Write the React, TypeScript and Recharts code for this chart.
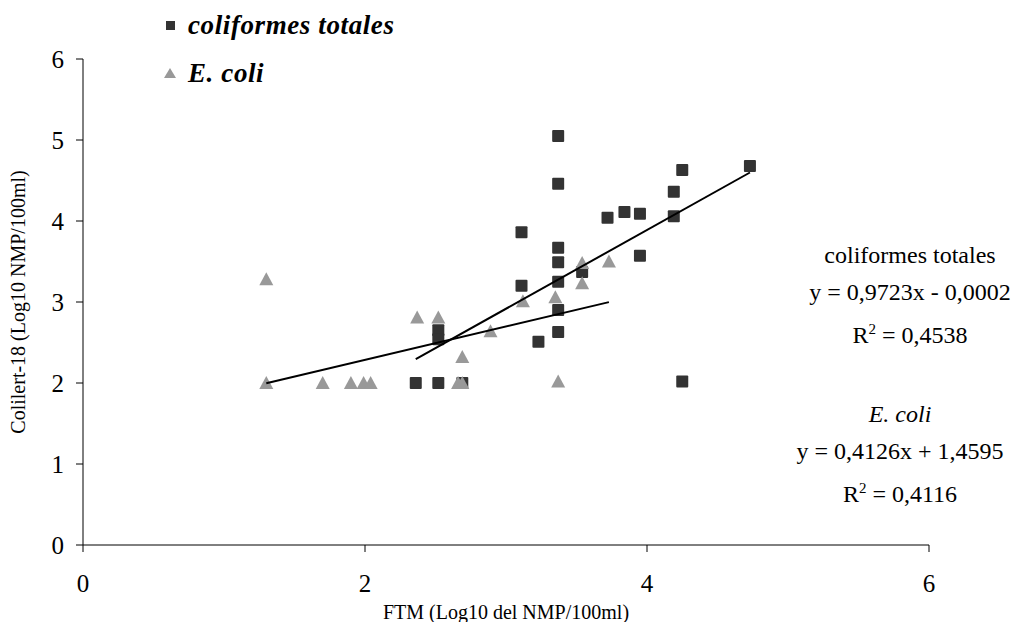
import React from 'react';
import { ScatterChart, Scatter, XAxis, YAxis, Legend, Label } from 'recharts';

// Coliformes totales: FTM (x) vs Colilert-18 (y), log10 NMP/100ml
const coliX = [2.36, 2.52, 2.69, 2.52, 2.52, 3.23, 3.37, 3.37, 3.37, 3.37, 3.37, 3.37, 3.37, 3.11, 3.11, 3.54, 3.72, 3.84, 3.95, 3.95, 4.19, 4.19, 4.25, 4.25, 4.73];
const coliY = [2.0, 2.0, 2.0, 2.65, 2.54, 2.51, 2.63, 2.9, 3.25, 3.49, 3.67, 4.46, 5.05, 3.2, 3.86, 3.37, 4.04, 4.11, 4.09, 3.57, 4.06, 4.36, 4.63, 2.02, 4.68];

// E. coli
const ecoliX = [1.3, 1.3, 1.7, 1.9, 1.99, 2.04, 2.37, 2.52, 2.66, 2.69, 2.69, 2.89, 3.12, 3.35, 3.37, 3.54, 3.54, 3.73];
const ecoliY = [3.28, 2.0, 2.0, 2.0, 2.0, 2.0, 2.81, 2.81, 2.0, 2.0, 2.32, 2.64, 3.01, 3.06, 2.02, 3.48, 3.23, 3.5];

// linear trend lines (slope, intercept, x-range)
const coliTrend = { slope: 0.9723, intercept: -0.0002, from: 2.36, to: 4.73 };
const ecoliTrend = { slope: 0.4126, intercept: 1.4595, from: 1.3, to: 3.73 };

const xTicks = [0, 2, 4, 6];
const yTicks = [0, 1, 2, 3, 4, 5, 6];

const coliData = coliX.map((x, i) => ({ x, y: coliY[i] }));
const ecoliData = ecoliX.map((x, i) => ({ x, y: ecoliY[i] }));
const trendPoints = (t: typeof coliTrend) => [
  { x: t.from, y: t.slope * t.from + t.intercept },
  { x: t.to, y: t.slope * t.to + t.intercept },
];

const SERIF = '"Liberation Serif", "Times New Roman", serif';

const SquareDot = (props: any) => {
  const { cx, cy } = props;
  return <rect x={cx - 6} y={cy - 6} width={12} height={12} rx={1} fill="#333333" />;
};

const TriangleDot = (props: any) => {
  const { cx, cy } = props;
  return <polygon points={`${cx},${cy - 7} ${cx + 7},${cy + 6} ${cx - 7},${cy + 6}`} fill="#999999" />;
};

const NoDot = () => <g />;

const XTick = (props: any) => (
  <text x={props.x} y={props.y} dy="0.71em" textAnchor="middle" fill="#000" fontFamily={SERIF} fontSize={25}>
    {props.payload.value}
  </text>
);

const YTick = (props: any) => (
  <text x={props.x} y={props.y} dy="0.355em" textAnchor="end" fill="#000" fontFamily={SERIF} fontSize={25}>
    {props.payload.value}
  </text>
);

// zero-height box so the legend does not eat into the plot area
const LegendBox = () => (
  <div style={{ height: 0, overflow: 'visible' }}>
    <div style={{ fontFamily: SERIF, fontSize: 27, fontWeight: 'bold', fontStyle: 'italic', letterSpacing: 0.6, color: '#000' }}>
      <div style={{ height: 48, lineHeight: '48px', display: 'flex', alignItems: 'center' }}>
        <span style={{ display: 'inline-block', width: 9, height: 9, background: '#333', marginLeft: 8, marginRight: 13 }} />
        coliformes totales
      </div>
      <div style={{ height: 48, lineHeight: '48px', display: 'flex', alignItems: 'center' }}>
        <svg width={12} height={10} style={{ marginLeft: 6, marginRight: 12 }}>
          <polygon points="6,0 12,10 0,10" fill="#999" />
        </svg>
        E. coli
      </div>
    </div>
  </div>
);

const eqStyle: React.CSSProperties = {
  position: 'absolute',
  fontFamily: SERIF,
  fontSize: 24,
  color: '#000',
  textAlign: 'center',
  lineHeight: '37px',
  whiteSpace: 'nowrap',
};

export default function App() {
  return (
    <div style={{ position: 'relative', width: 1007, height: 614, background: '#fff', fontFamily: SERIF }}>
      <ScatterChart
        width={1007}
        height={614}
        margin={{ top: 51, right: 86, left: 15, bottom: 17 }}
        style={{ fontFamily: SERIF }}
      >
        <XAxis
          type="number"
          dataKey="x"
          domain={[0, 6]}
          ticks={xTicks}
          height={60}
          tickSize={7}
          tickMargin={22}
          stroke="#000"
          tick={<XTick />}
        >
          <Label
            value="FTM (Log10 del NMP/100ml)"
            position="insideBottom"
            offset={-14}
            style={{ fontFamily: SERIF, fontSize: 20, fill: '#000' }}
          />
        </XAxis>
        <YAxis
          type="number"
          dataKey="y"
          domain={[0, 6]}
          ticks={yTicks}
          width={60}
          tickSize={7}
          tickMargin={12}
          stroke="#000"
          tick={<YTick />}
        >
          <Label
            value="Colilert-18 (Log10 NMP/100ml)"
            angle={-90}
            position="insideLeft"
            offset={-5}
            style={{ fontFamily: SERIF, fontSize: 20, fill: '#000', textAnchor: 'middle' }}
          />
        </YAxis>
        <Legend
          content={<LegendBox />}
          wrapperStyle={{ position: 'absolute', top: -7, left: 150, width: 400 }}
        />
        <Scatter name="coliformes totales" data={coliData} shape={<SquareDot />} isAnimationActive={false} />
        <Scatter name="E. coli" data={ecoliData} shape={<TriangleDot />} isAnimationActive={false} />
        <Scatter
          data={trendPoints(coliTrend)}
          line={{ stroke: '#000', strokeWidth: 2 }}
          shape={<NoDot />}
          legendType="none"
          isAnimationActive={false}
        />
        <Scatter
          data={trendPoints(ecoliTrend)}
          line={{ stroke: '#000', strokeWidth: 2 }}
          shape={<NoDot />}
          legendType="none"
          isAnimationActive={false}
        />
      </ScatterChart>
      <div style={{ ...eqStyle, left: 792, top: 229, width: 220 }}>
        <div>coliformes totales</div>
        <div>y = 0,9723x - 0,0002</div>
        <div>R<sup style={{ fontSize: 15 }}>2</sup> = 0,4538</div>
      </div>
      <div style={{ ...eqStyle, left: 782, top: 388, width: 220 }}>
        <div style={{ fontStyle: 'italic' }}>E. coli</div>
        <div>y = 0,4126x + 1,4595</div>
        <div>R<sup style={{ fontSize: 15 }}>2</sup> = 0,4116</div>
      </div>
    </div>
  );
}
